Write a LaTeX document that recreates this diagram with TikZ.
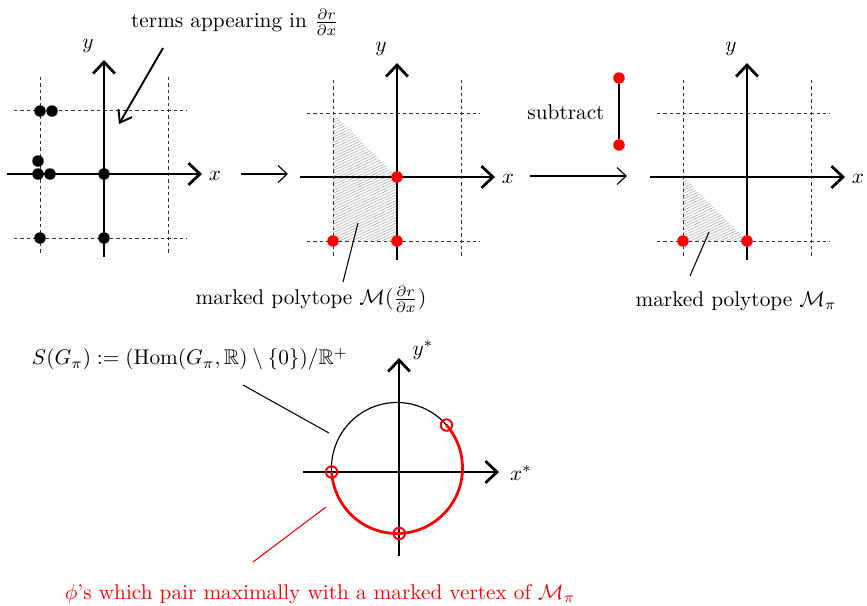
\documentclass[tikz,border=0pt]{standalone}
\usepackage{amsmath, amssymb}
\usepackage{xcolor}
\usetikzlibrary{arrows.meta,patterns.meta,calc}

\begin{document}
\begin{tikzpicture}[
  x=0.47pt, y=-0.47pt,
  axis/.style={-{Straight Barb[length=1.9mm,width=3.6mm]}, line width=1.3pt},
  gridline/.style={line width=0.45pt, black!80, dash pattern=on 1.6pt off 1.4pt},
  hatch/.style={pattern={Lines[angle=25,distance=1.2pt,line width=0.3pt]}, pattern color=black!30},
  pt/.style={circle, fill=black, inner sep=0pt, minimum size=5.4pt},
  rpt/.style={circle, fill=red, inner sep=0pt, minimum size=5.4pt},
  ring/.style={circle, draw=red, line width=0.9pt, inner sep=0pt, minimum size=5.4pt},
  maparrow/.style={-{Straight Barb[length=1.5mm,width=2.8mm]}, line width=0.55pt},
  pointer/.style={-{Straight Barb[length=1.8mm,width=2.6mm]}, line width=0.9pt},
  leader/.style={line width=0.5pt},
]
\useasboundingbox (0,0) rectangle (867,605);

% ---------- shaded polytopes (under the axes)
\fill[hatch] (333,113) -- (397,177) -- (397,241) -- (333,241) -- cycle;
\fill[hatch] (683,177) -- (747,241) -- (683,241) -- cycle;

% ---------- the three lattice panels
\foreach \p/\ox/\oy in {1/104/174, 2/397/177, 3/747/177} {
  \begin{scope}[shift={(\ox,\oy)}]
    \draw[gridline] (-64,-97) -- (-64,80);
    \draw[gridline] (64,-97) -- (64,80);
    \draw[gridline] (-90,-64) -- (83,-64);
    \draw[gridline] (-90,64) -- (83,64);
    \coordinate (xl\p) at (-97,0);
    \coordinate (xr\p) at (98,0);
    \coordinate (yb\p) at (0,83);
    \coordinate (yt\p) at (0,-114);
    \draw[axis] (xl\p) -- (xr\p);
    \draw[axis] (yb\p) -- (yt\p);
    \node (xn\p) at (111,2) {$x$};
    \node (yn\p) at (-16,-128) {$y$};
  \end{scope}
}

% ---------- terms of r
\foreach \k/\px/\py in {1/40/111, 2/52/111, 3/38/161, 4/38/174, 5/50/174, 6/104/174, 7/40/238, 8/104/238}
  \node[pt] (d\k) at (\px,\py) {};
\node (terms) at (235,22) {terms appearing in $\frac{\partial r}{\partial x}$};
\coordinate (tp) at (163,48);
\coordinate (tq) at (119,124);
\draw[pointer] (tp) -- (tq);

% ---------- marked vertices
\node[rpt] (m1) at (397,177) {};
\node[rpt] (m2) at (333,241) {};
\node[rpt] (m3) at (397,241) {};
\node[rpt] (n1) at (683,241) {};
\node[rpt] (n2) at (747,241) {};

% ---------- the maps between panels
\coordinate (a1) at (241,174);
\coordinate (b1) at (288,174);
\draw[maparrow] (a1) -- (b1);
\coordinate (a2) at (530,176);
\coordinate (b2) at (627,176);
\draw[maparrow] (a2) -- (b2);
\node (sub) at (566,112) {subtract};
\node[rpt] (s1) at (619,78) {};
\node[rpt] (s2) at (619,145) {};
\draw[line width=1.3pt] (s1) -- (s2);

% ---------- polytope labels
\node (poly2) at (311,299) {marked polytope $\mathcal{M}(\frac{\partial r}{\partial x})$};
\coordinate (l2a) at (358,223);
\coordinate (l2b) at (343,282);
\draw[leader] (l2a) -- (l2b);
\node (poly3) at (736,301) {marked polytope $\mathcal{M}_\pi$};
\coordinate (l3a) at (709,232);
\coordinate (l3b) at (690,276);
\draw[leader] (l3a) -- (l3b);

% ---------- the dual sphere
\coordinate (dxl) at (303,472);
\coordinate (dxr) at (499,472);
\coordinate (dyb) at (399,556);
\coordinate (dyt) at (399,358);
\draw[axis] (dxl) -- (dxr);
\draw[axis] (dyb) -- (dyt);
\node (xs) at (521,473) {$x^*$};
\node (ys) at (423,350) {$y^*$};
\coordinate (c) at (397,468);
\coordinate (q1) at ($(c)+(-41:65.5)$);
\coordinate (q2) at ($(c)+(176.5:65.5)$);
\coordinate (q3) at ($(c)+(88:65.5)$);
\draw[line width=0.55pt] (q1) arc[start angle=-41, end angle=-183.5, radius=65.5];
\draw[red, line width=1.3pt] (q1) arc[start angle=-41, end angle=176.5, radius=65.5];
\node[ring] (r1) at (q1) {};
\node[ring] (r2) at (q2) {};
\node[ring] (r3) at (q3) {};

\node (sg) at (190,359) {$S(G_\pi) := (\mathrm{Hom}(G_\pi,\mathbb{R}) \setminus \{0\})/\mathbb{R}^+$};
\coordinate (la) at (243,385);
\coordinate (lb) at (329,433);
\draw[leader] (la) -- (lb);

\node[text=red] (phi) at (320,594) {$\phi$'s which pair maximally with a marked vertex of $\mathcal{M}_\pi$};
\coordinate (pa) at (326,507);
\coordinate (pb) at (253,562);
\draw[leader, red] (pa) -- (pb);
\end{tikzpicture}
\end{document}
